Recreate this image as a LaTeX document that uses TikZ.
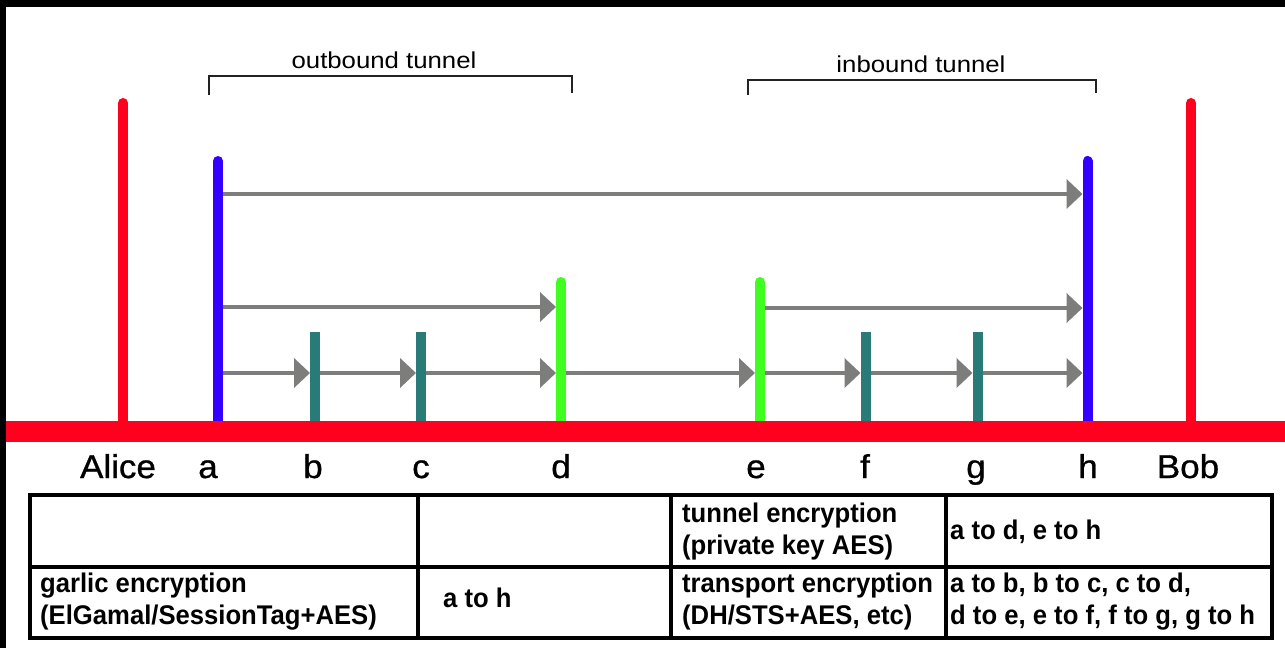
\documentclass[tikz,border=0pt]{standalone}
\usepackage{fontspec}
\setmainfont{Liberation Sans}
\newfontfamily\lblfont[FakeStretch=1.06,FakeBold=0.9]{Liberation Sans}
\newfontfamily\tunfont[FakeStretch=1.12]{Liberation Sans}
\newfontfamily\tabfont[FakeStretch=0.95]{Liberation Sans}
\usetikzlibrary{arrows.meta}
\definecolor{rred}{RGB}{255,0,30}
\definecolor{bblue}{RGB}{51,0,255}
\definecolor{ggreen}{RGB}{64,255,32}
\definecolor{tteal}{RGB}{40,123,120}
\definecolor{ggrey}{RGB}{125,126,123}
\definecolor{bracketcol}{RGB}{34,34,34}
\tikzset{
  endpt/.style={line width=10pt, rred, line cap=round},
  tunend/.style={line width=10pt, bblue, line cap=round},
  gateway/.style={line width=10pt, ggreen, line cap=round},
  hop/.style={line width=10pt, tteal, line cap=butt},
  msg/.style={line width=4pt, ggrey, -{Triangle[length=16pt,width=29pt]}, shorten <=5pt, shorten >=5pt},
  brk/.style={line width=2pt, bracketcol},
  peer/.style={anchor=base, inner sep=0pt, font=\lblfont\fontsize{33}{36}\selectfont},
  tunlbl/.style={anchor=base, inner sep=0pt, font=\tunfont\fontsize{23}{26}\selectfont},
  cell/.style={anchor=west, inner sep=0pt, align=left, font=\tabfont\bfseries\fontsize{27}{32}\selectfont},
  grid/.style={line width=4pt, black}
}
\begin{document}
\begin{tikzpicture}[x=1pt,y=-1pt]
\useasboundingbox (0,0) rectangle (1285,648);
\fill[black] (0,0) rectangle (1285,648);
\fill[white] (6,7) rectangle (1285,648);
% brackets
\coordinate (ob1) at (209,95); \coordinate (ob2) at (209,76);
\coordinate (ob3) at (572,76); \coordinate (ob4) at (572,93);
\draw[brk] (ob1) -- (ob2) -- (ob3) -- (ob4);
\coordinate (ib1) at (748,95); \coordinate (ib2) at (748,80);
\coordinate (ib3) at (1096,80); \coordinate (ib4) at (1096,93);
\draw[brk] (ib1) -- (ib2) -- (ib3) -- (ib4);
\node[tunlbl] (outlbl) at (384,68) {outbound tunnel};
\node[tunlbl] (inlbl) at (921,72) {inbound tunnel};
% vertical lines
\draw[endpt] (123,103) -- (123,430);
\draw[endpt] (1191,103) -- (1191,430);
\draw[tunend] (218,161) -- (218,430);
\draw[tunend] (1087.5,161) -- (1087.5,430);
\draw[gateway] (561,282) -- (561,430);
\draw[gateway] (760,282) -- (760,430);
\draw[hop] (315,332) -- (315,430);
\draw[hop] (421,332) -- (421,430);
\draw[hop] (865.5,332) -- (865.5,430);
\draw[hop] (977.5,332) -- (977.5,430);
% base line
\fill[rred] (6,421) rectangle (1285,442);
% coordinates on the lines
\coordinate (a1) at (218,194); \coordinate (h1) at (1087.5,194);
\coordinate (a2) at (218,307); \coordinate (d2) at (561,307);
\coordinate (e2) at (760,308); \coordinate (h2) at (1087.5,308);
\coordinate (a3) at (218,373); \coordinate (b3) at (315,373);
\coordinate (c3) at (421,373); \coordinate (d3) at (561,373);
\coordinate (e3) at (760,373); \coordinate (f3) at (865.5,373);
\coordinate (g3) at (977.5,373); \coordinate (h3) at (1087.5,373);
\draw[msg] (a1) -- (h1);
\draw[msg] (a2) -- (d2);
\draw[msg] (e2) -- (h2);
\draw[msg] (a3) -- (b3);
\draw[msg] (b3) -- (c3);
\draw[msg] (c3) -- (d3);
\draw[msg] (d3) -- (e3);
\draw[msg] (e3) -- (f3);
\draw[msg] (f3) -- (g3);
\draw[msg] (g3) -- (h3);
% labels
\node[peer] (alice) at (118,478) {Alice};
\node[peer] (la) at (208,478) {a};
\node[peer] (lb) at (313,478) {b};
\node[peer] (lc) at (421,478) {c};
\node[peer] (ld) at (561,478) {d};
\node[peer] (le) at (756,478) {e};
\node[peer] (lf) at (865,478) {f};
\node[peer] (lg) at (976,478) {g};
\node[peer] (lh) at (1088,478) {h};
\node[peer] (bob) at (1188,478) {Bob};
% table
\draw[grid] (30,495) rectangle (1272,637.5);
\draw[grid] (30,567) -- (1272,567);
\draw[grid] (417.5,495) -- (417.5,637.5);
\draw[grid] (671,495) -- (671,637.5);
\draw[grid] (946,495) -- (946,637.5);
\node[cell] (tun) at (682,532) {tunnel encryption\\(private key AES)};
\node[cell] (tunr) at (950,532) {a to d, e to h};
\node[cell] (gar) at (40,602) {garlic encryption\\(ElGamal/SessionTag+AES)};
\node[cell] (garr) at (443,598) {a to h};
\node[cell] (tra) at (682,602) {transport encryption\\(DH/STS+AES, etc)};
\node[cell] (trar) at (950,602) {a to b, b to c, c to d,\\d to e, e to f, f to g, g to h};
\end{tikzpicture}
\end{document}
